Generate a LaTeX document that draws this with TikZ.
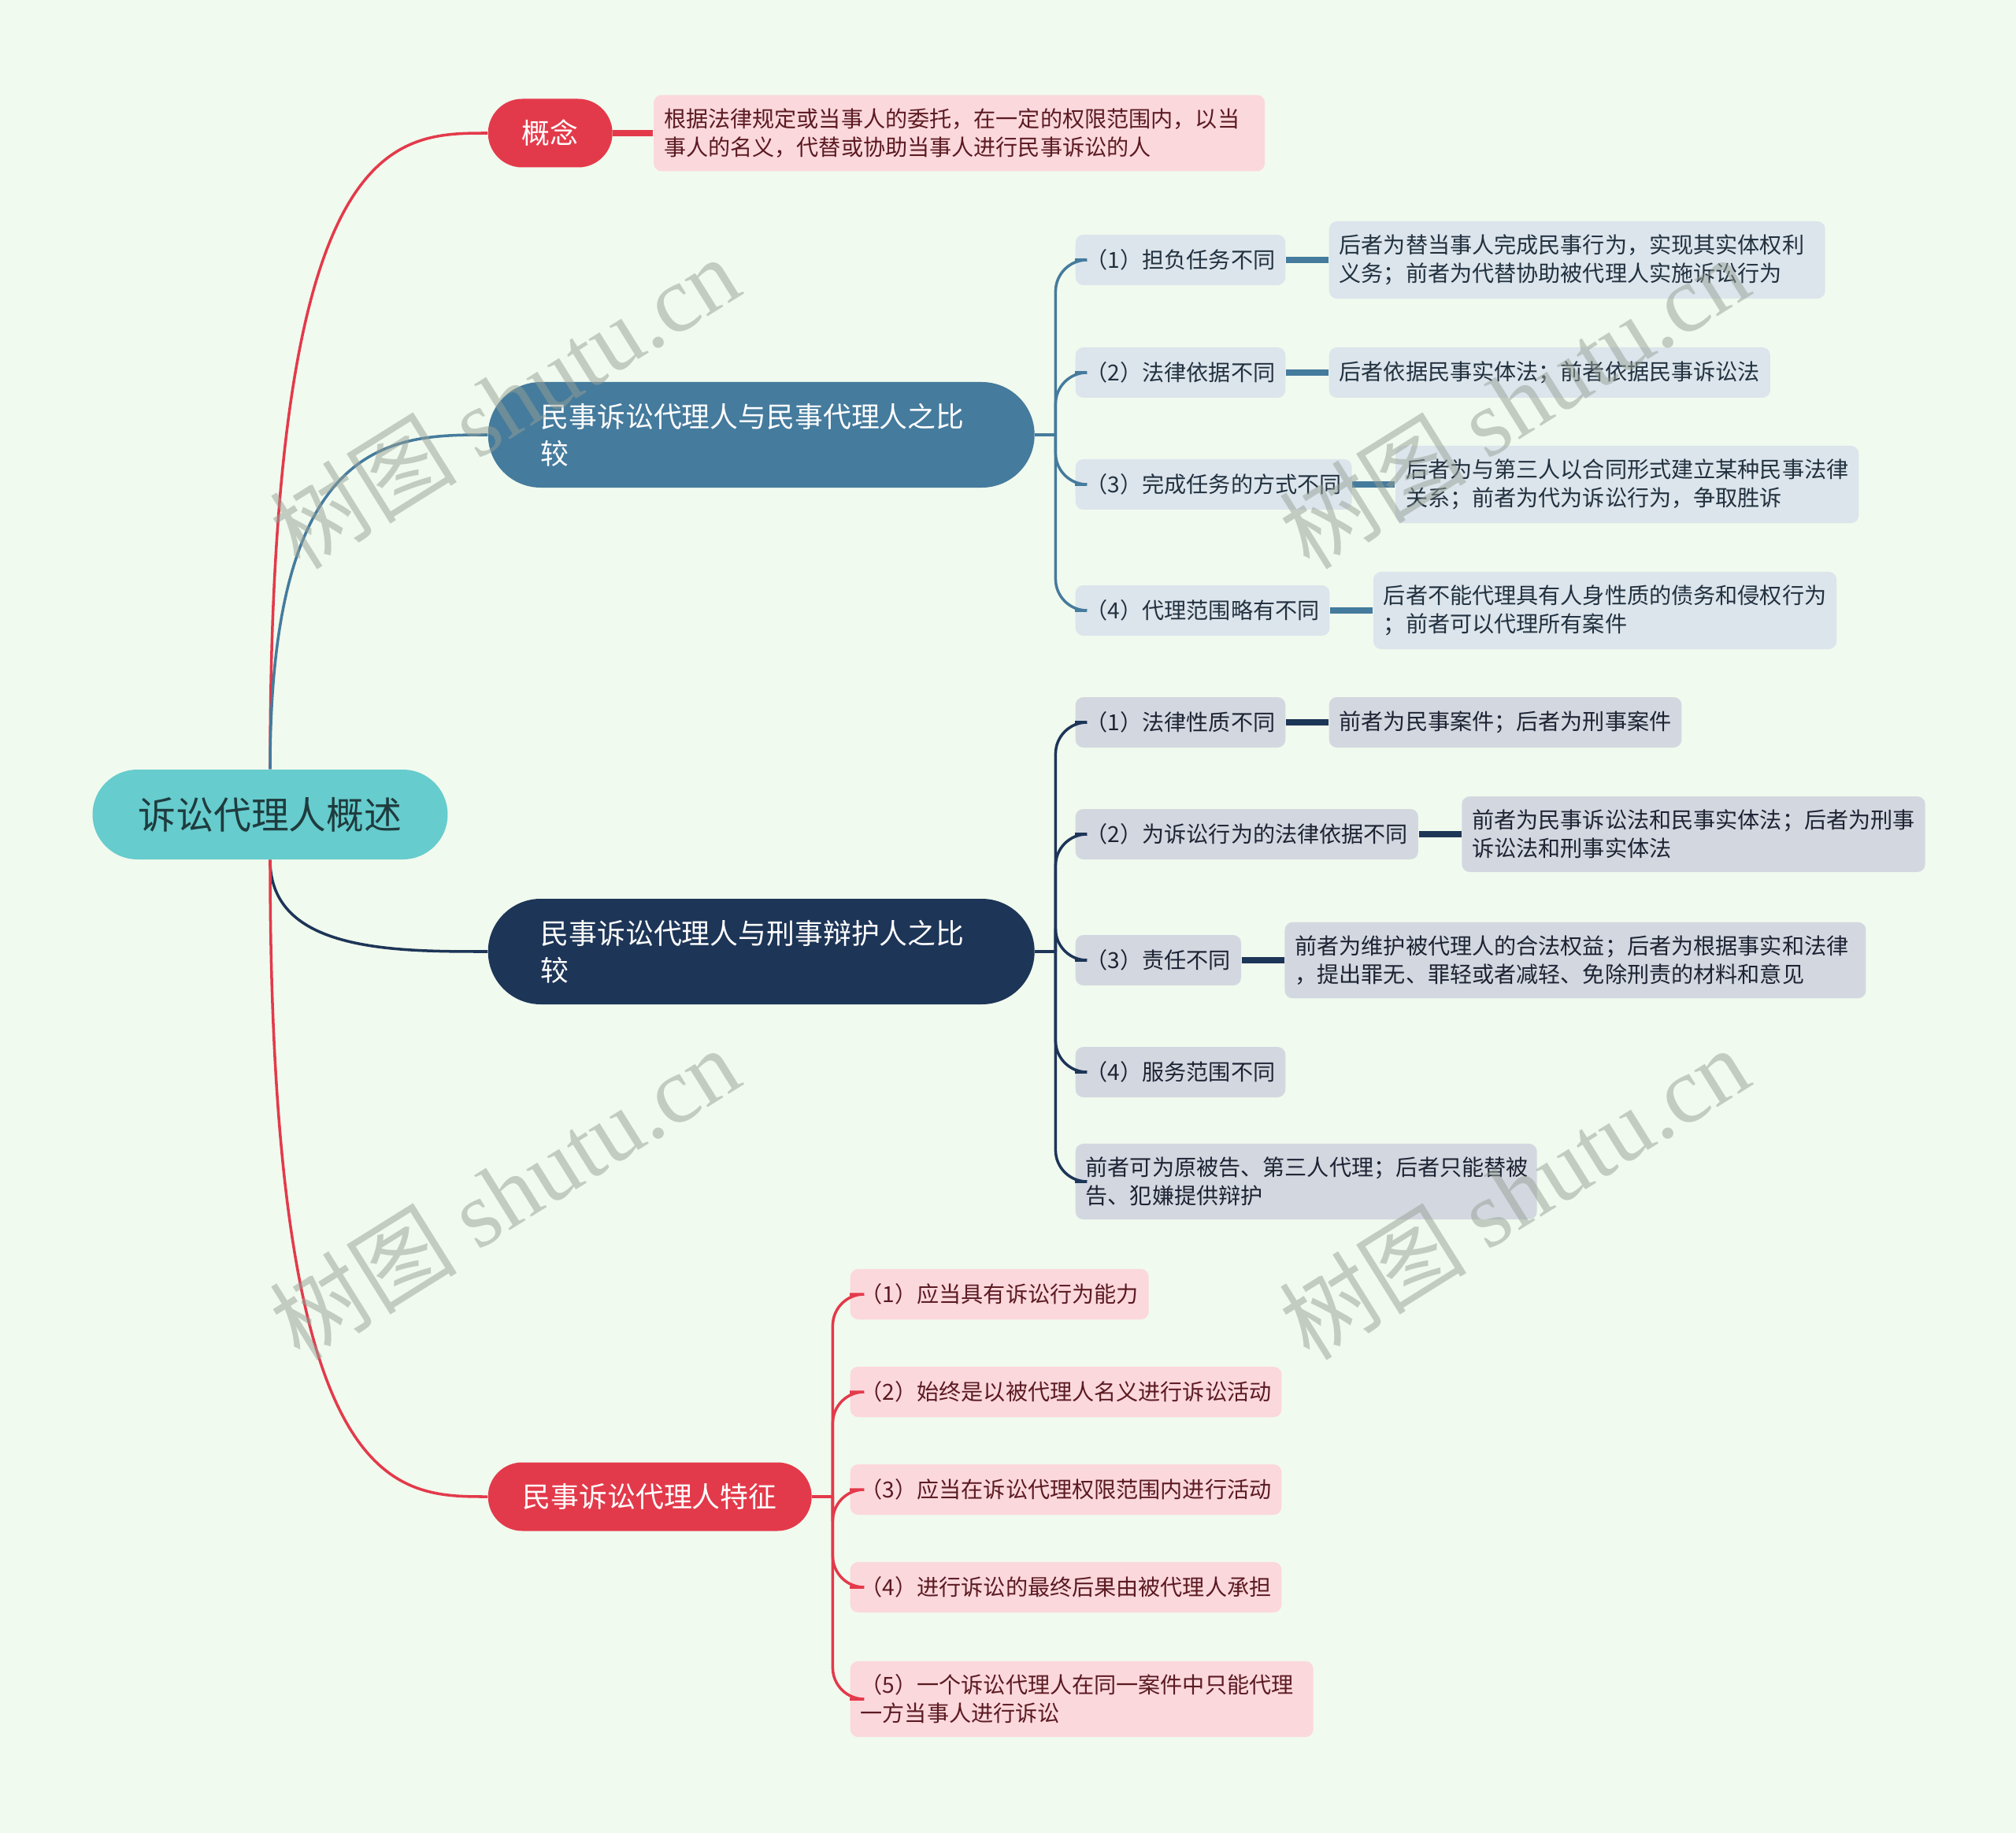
\documentclass[tikz,border=0pt]{standalone}
\usepackage{fontspec}
\setmainfont{Noto Sans CJK SC}
\newfontfamily\wmfont{Liberation Serif}
\usetikzlibrary{positioning}

\definecolor{bgcol}{HTML}{F1FAEE}
\definecolor{rootcol}{HTML}{66CCCD}
\definecolor{roottext}{HTML}{1F3B3E}
\definecolor{redcol}{HTML}{E33A4B}
\definecolor{bluecol}{HTML}{457B9D}
\definecolor{navycol}{HTML}{1D3557}
\definecolor{pinkfill}{HTML}{FBD8DC}
\definecolor{pinktext}{HTML}{5B1A22}
\definecolor{bluefill}{HTML}{DCE5EC}
\definecolor{bluetext}{HTML}{22313F}
\definecolor{navyfill}{HTML}{D3D8E0}
\definecolor{navytext}{HTML}{1D2333}
\definecolor{wmcol}{HTML}{96A096}

\begin{document}
\begin{tikzpicture}[
        leaf/.style={rounded corners=0.1cm, inner xsep=0.13cm, inner ysep=0.17cm,
            minimum height=0.64cm, align=left, font=\fontsize{8}{10.2}\selectfont},
        leafpink/.style={leaf, fill=pinkfill, text=pinktext},
        leafblue/.style={leaf, fill=bluefill, text=bluetext},
        leafnavy/.style={leaf, fill=navyfill, text=navytext},
        wrap/.style={text width=#1},
        topic/.style={anchor=west, text=white, font=\fontsize{10.2}{13.4}\selectfont},
        topicshort/.style={topic, minimum height=0.87cm, rounded corners=0.435cm, inner sep=0pt},
        topiclong/.style={topic, minimum height=1.34cm, rounded corners=0.67cm,
            text width=5.6cm, inner xsep=0.67cm, align=left},
        redlink/.style={draw=redcol, line width=1pt},
        bluelink/.style={draw=bluecol, line width=1pt},
        navylink/.style={draw=navycol, line width=1pt},
        wm/.style={text=wmcol, opacity=0.5, rotate=32, inner sep=0pt}
    ]
        \fill[bgcol] (0,0) rectangle (25.6,-23.27);
        \useasboundingbox (0,0) rectangle (25.6,-23.27);

        \node[fill=rootcol, text=roottext, minimum width=4.51cm, minimum height=1.14cm,
            rounded corners=0.57cm, font=\fontsize{13.6}{16}\selectfont] (root) at (3.43,-10.34) {诉讼代理人概述};

        \node[topicshort, fill=redcol, minimum width=1.58cm] (gainian) at (6.19,-1.69) {概念};
        \node[topiclong, fill=bluecol] (civil) at (6.19,-5.52) {民事诉讼代理人与民事代理人之比\\较};
        \node[topiclong, fill=navycol] (crime) at (6.19,-12.08) {民事诉讼代理人与刑事辩护人之比\\较};
        \node[topicshort, fill=redcol, minimum width=4.11cm] (traits) at (6.19,-19.00) {民事诉讼代理人特征};

        \node[leafpink, wrap=7.5cm, right=0.51cm of gainian] (gainiand) {根据法律规定或当事人的委托，在一定的权限范围内，以当\\事人的名义，代替或协助当事人进行民事诉讼的人};

        \node[leafblue, anchor=west] (c1) at (13.65,-3.30) {（1）担负任务不同};
        \node[leafblue, anchor=west] (c2) at (13.65,-4.73) {（2）法律依据不同};
        \node[leafblue, anchor=west] (c3) at (13.65,-6.15) {（3）完成任务的方式不同};
        \node[leafblue, anchor=west] (c4) at (13.65,-7.75) {（4）代理范围略有不同};
        \node[leafblue, wrap=6.04cm, right=0.54cm of c1] (c1d) {后者为替当事人完成民事行为，实现其实体权利\\义务；前者为代替协助被代理人实施诉讼行为};
        \node[leafblue, right=0.54cm of c2] (c2d) {后者依据民事实体法；前者依据民事诉讼法};
        \node[leafblue, right=0.54cm of c3] (c3d) {后者为与第三人以合同形式建立某种民事法律\\关系；前者为代为诉讼行为，争取胜诉};
        \node[leafblue, right=0.54cm of c4] (c4d) {后者不能代理具有人身性质的债务和侵权行为\\；前者可以代理所有案件};

        \node[leafnavy, anchor=west] (k1) at (13.65,-9.17) {（1）法律性质不同};
        \node[leafnavy, anchor=west] (k2) at (13.65,-10.59) {（2）为诉讼行为的法律依据不同};
        \node[leafnavy, anchor=west] (k3) at (13.65,-12.19) {（3）责任不同};
        \node[leafnavy, anchor=west] (k4) at (13.65,-13.61) {（4）服务范围不同};
        \node[leafnavy, wrap=5.6cm, anchor=west] (k5) at (13.65,-15.00) {前者可为原被告、第三人代理；后者只能替被\\告、犯嫌提供辩护};
        \node[leafnavy, right=0.54cm of k1] (k1d) {前者为民事案件；后者为刑事案件};
        \node[leafnavy, right=0.54cm of k2] (k2d) {前者为民事诉讼法和民事实体法；后者为刑事\\诉讼法和刑事实体法};
        \node[leafnavy, wrap=7.12cm, right=0.54cm of k3] (k3d) {前者为维护被代理人的合法权益；后者为根据事实和法律\\，提出罪无、罪轻或者减轻、免除刑责的材料和意见};

        \node[leafpink, anchor=west] (t1) at (10.79,-16.43) {（1）应当具有诉讼行为能力};
        \node[leafpink, anchor=west] (t2) at (10.79,-17.67) {（2）始终是以被代理人名义进行诉讼活动};
        \node[leafpink, anchor=west] (t3) at (10.79,-18.91) {（3）应当在诉讼代理权限范围内进行活动};
        \node[leafpink, anchor=west] (t4) at (10.79,-20.15) {（4）进行诉讼的最终后果由被代理人承担};
        \node[leafpink, wrap=5.62cm, anchor=west] (t5) at (10.79,-21.57) {（5）一个诉讼代理人在同一案件中只能代理\\一方当事人进行诉讼};

        \draw[redlink] (root.north) .. controls (root.north |- gainian.west) and ([xshift=-1.2cm]gainian.west) .. (gainian.west);
        \draw[bluelink] (root.north) .. controls (root.north |- civil.west) and ([xshift=-1.2cm]civil.west) .. (civil.west);
        \draw[navylink] (root.south) .. controls (root.south |- crime.west) and ([xshift=-1.2cm]crime.west) .. (crime.west);
        \draw[redlink] (root.south) .. controls (root.south |- traits.west) and ([xshift=-1.2cm]traits.west) .. (traits.west);

        \draw[redlink, line width=2pt] (gainian.east) -- (gainiand.west);

        \coordinate (civfork) at ([xshift=0.26cm]civil.east);
        \draw[bluelink] (civil.east) -- (civfork);
        \foreach \n in {c1,c2,c3,c4}
            \draw[bluelink, rounded corners=0.4cm] (civfork) |- (\n.west);
        \foreach \n in {c1,c2,c3,c4}
            \draw[bluelink, line width=2pt] (\n.east) -- (\n d.west);

        \coordinate (crimefork) at ([xshift=0.26cm]crime.east);
        \draw[navylink] (crime.east) -- (crimefork);
        \foreach \n in {k1,k2,k3,k4,k5}
            \draw[navylink, rounded corners=0.4cm] (crimefork) |- (\n.west);
        \foreach \n in {k1,k2,k3}
            \draw[navylink, line width=2pt] (\n.east) -- (\n d.west);

        \coordinate (traitfork) at ([xshift=0.26cm]traits.east);
        \draw[redlink] (traits.east) -- (traitfork);
        \foreach \n in {t1,t2,t3,t4,t5}
            \draw[redlink, rounded corners=0.4cm] (traitfork) |- (\n.west);

        \node[wm] (wm1) at (6.40,-5.10) {\fontsize{34}{34}\selectfont 树图 {\wmfont shutu.cn}};
        \node[wm] (wm2) at (19.22,-5.10) {\fontsize{34}{34}\selectfont 树图 {\wmfont shutu.cn}};
        \node[wm] (wm3) at (6.40,-15.14) {\fontsize{34}{34}\selectfont 树图 {\wmfont shutu.cn}};
        \node[wm] (wm4) at (19.22,-15.14) {\fontsize{34}{34}\selectfont 树图 {\wmfont shutu.cn}};
\end{tikzpicture}
\end{document}
